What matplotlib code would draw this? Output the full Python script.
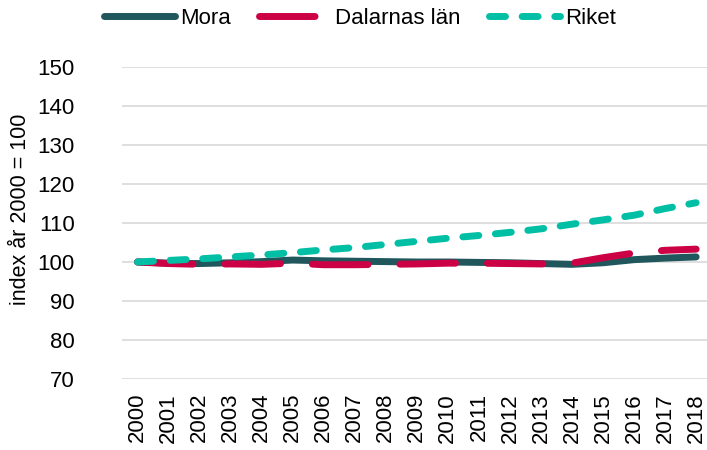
import matplotlib.pyplot as plt
import numpy as np

plt.rcParams["font.family"] = ["Liberation Sans", "DejaVu Sans"]

years = [str(y) for y in range(2000, 2019)]
mora = [100, 99.7, 99.6, 99.8, 100.1, 100.5, 100.3, 100.2, 100.1, 100.0,
        100.0, 99.9, 99.8, 99.6, 99.4, 99.8, 100.6, 101.0, 101.3]
dalarna = [100, 99.6, 99.4, 99.5, 99.4, 99.7, 99.3, 99.3, 99.4, 99.5,
           99.7, 99.7, 99.6, 99.5, 99.7, 101.1, 102.3, 103.0, 103.3]
riket = [100, 100.4, 100.8, 101.3, 101.8, 102.4, 103.1, 103.7, 104.5, 105.3,
         106.1, 106.8, 107.6, 108.5, 109.7, 110.8, 112.0, 113.7, 115.2]

fig = plt.figure(figsize=(7.07, 4.5), dpi=100)
ax = fig.add_axes([122 / 707, 1 - 379 / 450, 585 / 707, 312 / 450])
x = np.arange(len(years))

ax.plot(x, mora, color="#20575d", lw=5, solid_capstyle="round", label="Mora")
ax.plot(x, dalarna, color="#cc0044", lw=5, dash_capstyle="round",
        dashes=(8, 4.6), label="Dalarnas län")
ax.plot(x, riket, color="#00bfa5", lw=5, dash_capstyle="round",
        dashes=(2.3, 2.4), label="Riket")

ax.set_ylim(70, 150)
ax.set_yticks(range(70, 151, 10))
ax.set_xlim(-0.5, 18.35)
ax.set_xticks(x)
ax.set_xticklabels(years, rotation=90)
# tick label pads are in points; the reference leaves a wide gap on the left
ax.tick_params(axis="y", labelsize=16, length=0, pad=34)
ax.tick_params(axis="x", labelsize=16, length=0, pad=10)
ax.set_ylabel("index år 2000 = 100", fontsize=15.5)
ax.yaxis.set_label_coords(-0.155, 0.545)
ax.grid(axis="y", color="#d9d9d9", lw=1.2)
ax.set_axisbelow(True)
for s in ax.spines.values():
    s.set_visible(False)

fig.legend(*ax.get_legend_handles_labels(), loc="center",
           bbox_to_anchor=(360 / 707, 1 - 18 / 450), ncol=3, frameon=False,
           fontsize=16, handlelength=3.2, columnspacing=1.3, handletextpad=0.2,
           borderpad=0)

plt.savefig("out.png", dpi=100)
